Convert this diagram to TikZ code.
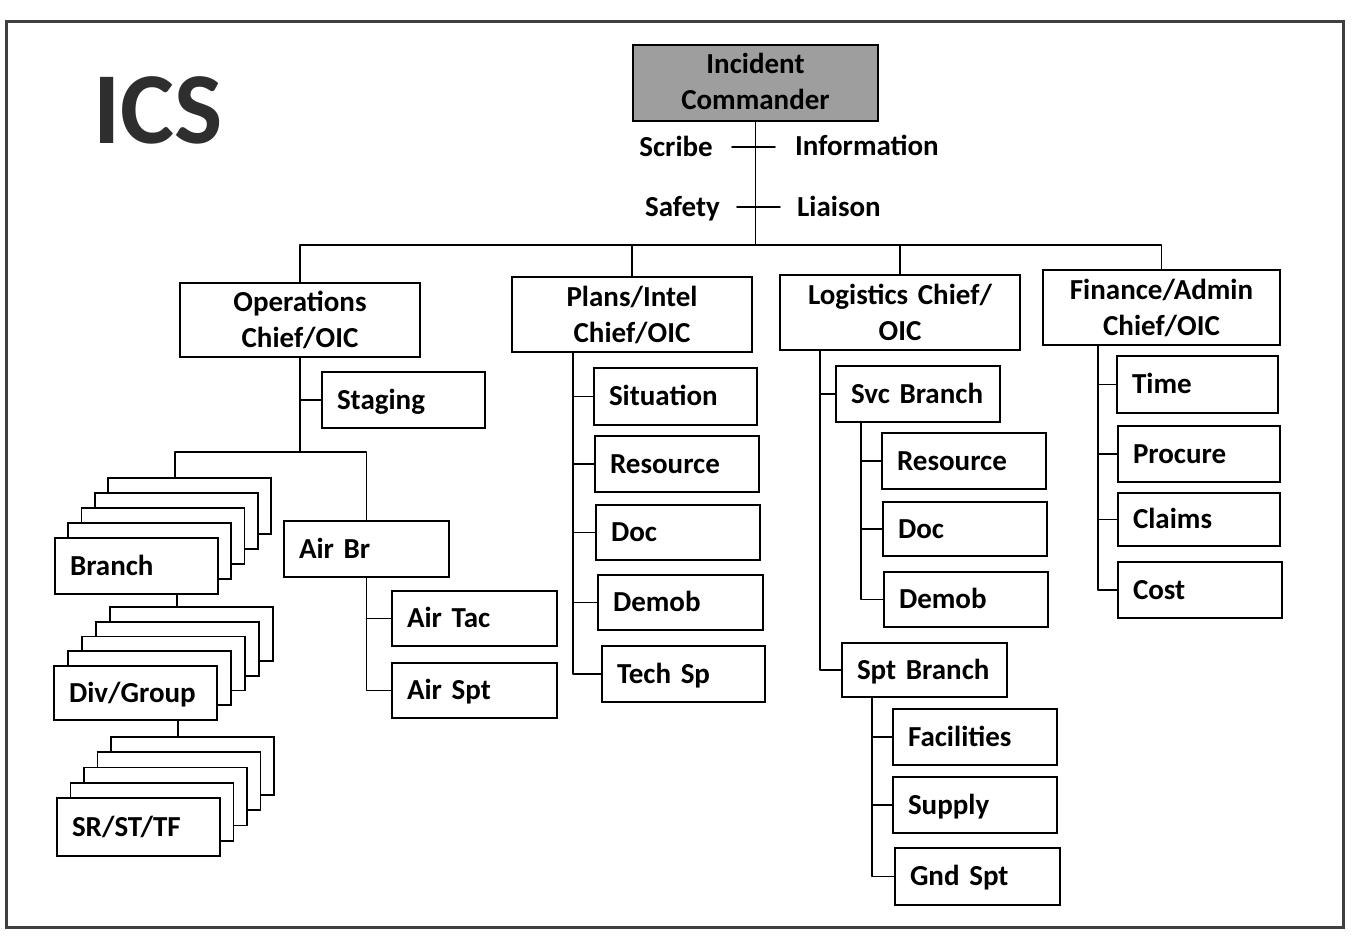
\documentclass[tikz,border=0pt]{standalone}
\usepackage{fontspec}
\setmainfont{Carlito}[WordSpace=0.7]
\usetikzlibrary{positioning}

% box given by its left, top, right and bottom edges; text set flush left
\newcommand\ubox[7][]{%
  \pgfmathsetmacro\ubh{#6-#4}%
  \pgfmathsetmacro\ubt{#5-#3-30}%
  \pgfmathsetmacro\ubx{(#3+#5)/2}%
  \pgfmathsetmacro\uby{(#4+#6)/2}%
  \node[unit,minimum height=\ubh pt,text width=\ubt pt,#1] (#2) at (\ubx,\uby) {#7};}
% box given by its edges; two centred lines of text
\newcommand\headbox[7][]{%
  \pgfmathsetmacro\ubh{#6-#4}%
  \pgfmathsetmacro\ubt{#5-#3-10}%
  \pgfmathsetmacro\ubx{(#3+#5)/2}%
  \pgfmathsetmacro\uby{(#4+#6)/2}%
  \node[head,minimum height=\ubh pt,text width=\ubt pt,#1] (#2) at (\ubx,\uby) {#7};}
% a pile of five boxes, front one named #1, the others #1k1..#1k4
\newcommand\pile[8]{%
  \foreach \k in {4,3,2,1}{%
    \pgfmathsetmacro\pl{#2+#6*\k}%
    \pgfmathsetmacro\pt{#3-#7*\k}%
    \pgfmathsetmacro\pr{\pl+#4}%
    \pgfmathsetmacro\pb{\pt+#5}%
    \ubox{#1k\k}{\pl}{\pt}{\pr}{\pb}{}}%
  \pgfmathsetmacro\pr{#2+#4}%
  \pgfmathsetmacro\pb{#3+#5}%
  \ubox{#1}{#2}{#3}{\pr}{\pb}{#8}}

\begin{document}
\begin{tikzpicture}[x=1pt,y=-1pt,
  every node/.style={font=\bfseries\fontsize{29}{36}\selectfont},
  line/.style={line width=1.6pt,line cap=round,line join=round},
  unit/.style={draw,line width=1.8pt,fill=white,inner xsep=15pt,inner ysep=0pt,
    align=left,text height=18.5pt,text depth=0pt},
  head/.style={draw,line width=1.8pt,fill=white,inner xsep=5pt,inner ysep=0pt,
    align=center,text height=18.5pt,text depth=35pt},
  tag/.style={inner sep=0pt,text height=18.5pt,text depth=0pt}]

\useasboundingbox (0,0) rectangle (1352,943);
\fill[white] (0,0) rectangle (1352,943);
\draw[black!75,line width=3pt] (6,21) rectangle (1343,927);

% title
\node[anchor=base west,inner sep=0pt,text=black!82,
  font=\bfseries\fontsize{102}{110}\selectfont] (title) at (93,143) {ICS};

% command level
\headbox[fill=black!38,text depth=37pt]{ic}{633}{45}{878}{121}{Incident\\Commander}
\node[tag,anchor=east] (scribe) at (713,147) {Scribe};
\node[tag,anchor=west] (info) at (795,146) {Information};
\node[tag,anchor=east] (safety) at (720,207) {Safety};
\node[tag,anchor=west] (liaison) at (797,207) {Liaison};

% section chiefs
\headbox{ops}{180}{283}{420}{357}{Operations\\Chief/OIC}
\headbox{plans}{512}{277}{752}{352}{Plans/Intel\\Chief/OIC}
\headbox{logi}{780}{275}{1020}{350}{Logistics Chief/\\OIC}
\headbox{fin}{1043}{270}{1280}{345}{Finance/Admin\\Chief/OIC}

\coordinate (bus) at (755,245);
\draw[line] (ic.south) -- (ic.south |- bus);
\draw[line] ([xshift=19pt]scribe.east) -- ([xshift=-20pt]info.west |- scribe.east);
\draw[line] ([xshift=17pt]safety.east) -- ([xshift=-17pt]liaison.west);
\draw[line] (ops.north) |- (bus) -| (fin.north);
\draw[line] (plans.north) -- (plans.north |- bus);
\draw[line] (logi.north) -- (logi.north |- bus);

% operations
\ubox{staging}{322}{372}{485}{428}{Staging}
\pile{branch}{55}{538}{163}{56}{13.25}{15}{Branch}
\pile{divgrp}{54}{666}{163}{54}{14}{14.75}{Div/Group}
\pile{srsttf}{57}{798}{163}{58}{13.5}{15.25}{SR/ST/TF}
\ubox{airbr}{284}{521}{449}{577}{Air Br}
\ubox{airtac}{392}{591}{557}{646}{Air Tac}
\ubox{airspt}{392}{663}{557}{718}{Air Spt}

\coordinate (jops) at (300,452);
\coordinate (jbr) at (175,452);
\coordinate (jair) at (366.5,452);
\coordinate (jdiv) at (177,0);
\coordinate (jsr) at (178,0);
\draw[line] (ops.south) -- (jops);
\draw[line] (staging.west) -- (staging.west -| ops.south);
\draw[line] (branchk4.north -| jbr) -- (jbr) -- (jair) -- (airbr.north);
\draw[line] (branch.south -| jdiv) -- (divgrpk4.north -| jdiv);
\draw[line] (divgrp.south -| jsr) -- (srsttfk4.north -| jsr);
\draw[line] (airbr.south) |- (airspt.west);
\draw[line] (airtac.west) -- (airtac.west -| airbr.south);

% planning / intelligence
\ubox{situation}{594}{368}{757}{425}{Situation}
\ubox{presource}{595}{436}{759}{492}{Resource}
\ubox{pdoc}{596}{505}{760}{560}{Doc}
\ubox{pdemob}{598}{575}{763}{630}{Demob}
\ubox{techsp}{602}{646}{765}{702}{Tech Sp}
\coordinate (tplans) at (573,0);
\draw[line] (plans.south -| tplans) |- (techsp.west);
\foreach \n in {situation,presource,pdoc,pdemob}
  \draw[line] (\n.west) -- (\n.west -| tplans);

% logistics
\ubox{svcbr}{836}{366}{1000}{422}{Svc Branch}
\ubox{lresource}{882}{433}{1046}{489}{Resource}
\ubox{ldoc}{883}{502}{1047}{556}{Doc}
\ubox{ldemob}{884}{572}{1048}{627}{Demob}
\ubox{sptbr}{842}{643}{1007}{697}{Spt Branch}
\ubox{facilities}{893}{709}{1057}{765}{Facilities}
\ubox{supply}{893}{777}{1057}{833}{Supply}
\ubox{gndspt}{895}{848}{1060}{905}{Gnd Spt}
\coordinate (tlog) at (820,0);
\coordinate (tsvc) at (861,0);
\coordinate (tspt) at (872,0);
\draw[line] (logi.south -| tlog) |- (sptbr.west);
\draw[line] (svcbr.west) -- (svcbr.west -| tlog);
\draw[line] (svcbr.south -| tsvc) |- (ldemob.west);
\foreach \n in {lresource,ldoc}
  \draw[line] (\n.west) -- (\n.west -| tsvc);
\draw[line] (sptbr.south -| tspt) |- (gndspt.west);
\foreach \n in {facilities,supply}
  \draw[line] (\n.west) -- (\n.west -| tspt);

% finance / administration
\ubox{time}{1117}{356}{1278}{413}{Time}
\ubox{procure}{1118}{426}{1280}{482}{Procure}
\ubox{claims}{1118}{493}{1280}{546}{Claims}
\ubox{cost}{1118}{562}{1282}{618}{Cost}
\coordinate (tfin) at (1098,0);
\draw[line] (fin.south -| tfin) |- (cost.west);
\foreach \n in {time,procure,claims}
  \draw[line] (\n.west) -- (\n.west -| tfin);

\end{tikzpicture}
\end{document}
